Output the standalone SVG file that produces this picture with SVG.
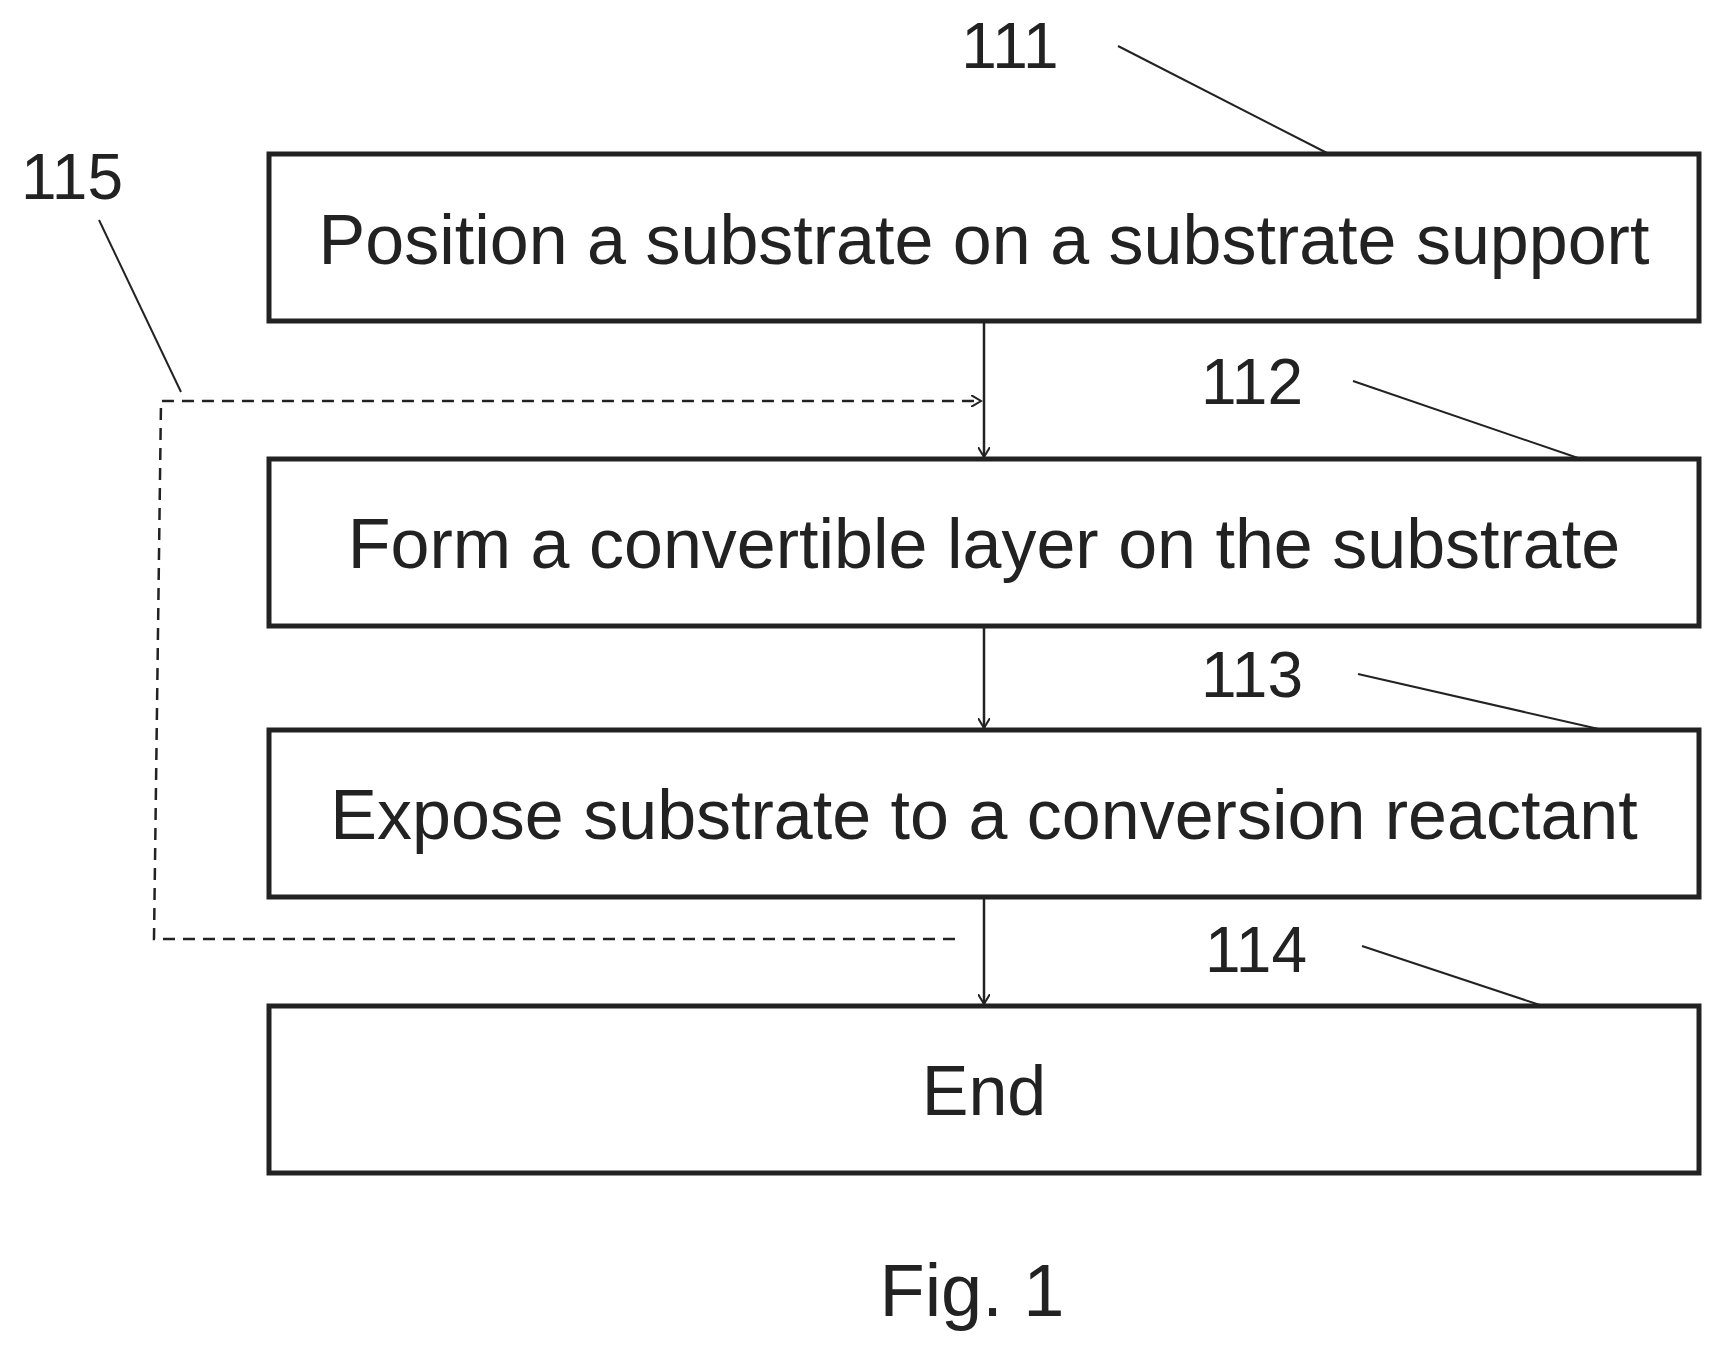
<svg xmlns="http://www.w3.org/2000/svg" width="1722" height="1359" viewBox="0 0 1722 1359">
<style>
.box{fill:#fff;stroke:#222;stroke-width:5}
.t{font-family:"Liberation Sans",Arial,sans-serif;font-size:70px;fill:#222;text-anchor:middle}
.n{font-family:"Liberation Sans",Arial,sans-serif;font-size:64px;fill:#222;text-anchor:middle}
.ld{stroke:#222;stroke-width:2;fill:none}
.c{stroke:#222;stroke-width:2.5;fill:none}
.d{stroke:#222;stroke-width:2.5;fill:none;stroke-dasharray:12 8}
</style>
<defs><marker id="a" markerWidth="12" markerHeight="12" refX="10" refY="6" orient="auto" markerUnits="userSpaceOnUse"><path d="M0,0 L10,6 L0,12" fill="none" stroke="#222" stroke-width="2"/></marker></defs>
<rect width="1722" height="1359" fill="#fff"/>
<g id="n111"><rect class="box" x="269" y="154" width="1430" height="167"/><text class="t" x="984" y="264">Position a substrate on a substrate support</text></g>
<g id="n112"><rect class="box" x="269" y="459" width="1430" height="167"/><text class="t" x="984" y="568">Form a convertible layer on the substrate</text></g>
<g id="n113"><rect class="box" x="269" y="730" width="1430" height="167"/><text class="t" x="984" y="839">Expose substrate to a conversion reactant</text></g>
<g id="n114"><rect class="box" x="269" y="1006" width="1430" height="167"/><text class="t" x="984" y="1115">End</text></g>
<g id="labels">
<text class="n" x="1010" y="68">111</text><line class="ld" x1="1118" y1="46" x2="1329" y2="154"/>
<text class="n" x="1252" y="404">112</text><line class="ld" x1="1353" y1="381" x2="1581" y2="459"/>
<text class="n" x="1252" y="697">113</text><line class="ld" x1="1358" y1="674" x2="1603" y2="730"/>
<text class="n" x="1256" y="972">114</text><line class="ld" x1="1362" y1="946" x2="1543" y2="1006"/>
<text class="n" x="72" y="199">115</text><line class="ld" x1="99" y1="220" x2="181" y2="392"/>
<text class="n" x="972" y="1316" style="font-size:74px">Fig. 1</text>
</g>
<g id="connectors">
<line class="c" x1="984" y1="321" x2="984" y2="457" marker-end="url(#a)"/>
<line class="c" x1="984" y1="626" x2="984" y2="728" marker-end="url(#a)"/>
<line class="c" x1="984" y1="897" x2="984" y2="1004" marker-end="url(#a)"/>
<path class="d" d="M955,939 L154,939 L161,401 L981,401" marker-end="url(#a)"/>
</g>
</svg>
